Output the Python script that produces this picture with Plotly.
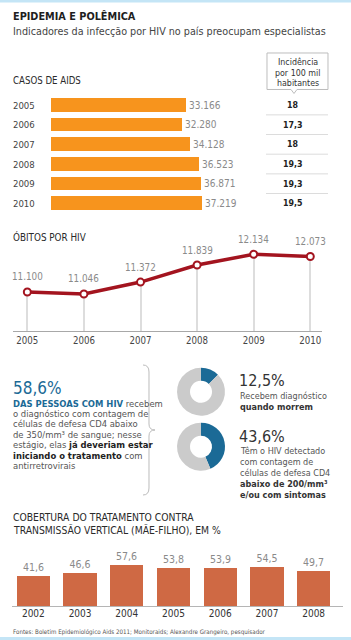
import plotly.graph_objects as go

W, H = 351, 640
FONT = "DejaVu Sans Condensed, DejaVu Sans, sans-serif"

# ---------------- data ----------------
aids_years = ["2005", "2006", "2007", "2008", "2009", "2010"]
aids_cases = [33166, 32280, 34128, 36523, 36871, 37219]
incidence = ["18", "17,3", "18", "19,3", "19,3", "19,5"]

death_years = [2005, 2006, 2007, 2008, 2009, 2010]
deaths = [11100, 11046, 11372, 11839, 12134, 12073]

donut1 = [12.5, 87.5]
donut2 = [43.6, 56.4]

tv_years = ["2002", "2003", "2004", "2005", "2006", "2007", "2008"]
tv_cov = [41.6, 46.6, 57.6, 53.8, 53.9, 54.5, 49.7]


def X(px):
    return px / W


def Y(py):
    return 1 - py / H


def fmt_thousands(v):
    return f"{v:,}".replace(",", ".")


def fmt_dec(v):
    return f"{v:.1f}".replace(".", ",")


fig = go.Figure()

ORANGE = "#f7941d"
RED = "#a3141f"
BLUE = "#1b6a96"
GRAY_TXT = "#8a8a8a"
DARK = "#2a2a2a"

# ---- AIDS cases horizontal bars ----
fig.add_trace(go.Bar(
    x=aids_cases, y=list(range(len(aids_years))), orientation="h",
    marker=dict(color=ORANGE, line=dict(width=0)),
    width=0.71,
    text=[fmt_thousands(v) for v in aids_cases],
    textposition="outside", constraintext="none", cliponaxis=False,
    textfont=dict(family=FONT, size=10, color=GRAY_TXT),
    xaxis="x", yaxis="y", showlegend=False, hoverinfo="skip",
))

# ---- Deaths line chart ----
fig.add_trace(go.Bar(
    x=death_years, y=deaths, width=0.018,
    marker=dict(color="#dddddd", line=dict(width=0)),
    xaxis="x2", yaxis="y2", showlegend=False, hoverinfo="skip",
))
fig.add_trace(go.Scatter(
    x=death_years, y=deaths, mode="lines+markers",
    line=dict(color=RED, width=3.5),
    marker=dict(size=7, color="white", line=dict(color=RED, width=2)),
    xaxis="x2", yaxis="y2", showlegend=False, hoverinfo="skip", cliponaxis=False,
))

# ---- Donuts ----
for vals, cy in [(donut1, 391.7), (donut2, 446.7)]:
    fig.add_trace(go.Pie(
        values=vals, hole=0.46, sort=False, direction="clockwise", rotation=0,
        marker=dict(colors=[BLUE, "#cbcbcb"], line=dict(width=0)),
        textinfo="none", hoverinfo="skip", showlegend=False,
        domain=dict(x=[X(201 - 24), X(201 + 24)], y=[Y(cy + 24), Y(cy - 24)]),
    ))

# ---- Vertical transmission bars ----
fig.add_trace(go.Bar(
    x=list(range(len(tv_years))), y=tv_cov, width=0.714,
    marker=dict(color="#cf6944", line=dict(width=0)),
    text=[fmt_dec(v) for v in tv_cov],
    textposition="outside", constraintext="none", cliponaxis=False,
    textfont=dict(family=FONT, size=10.5, color=GRAY_TXT),
    xaxis="x3", yaxis="y3", showlegend=False, hoverinfo="skip",
))

ann = []


def text(t, x, y, size, color=DARK, xanchor="left", ref=("paper", "paper")):
    ann.append(dict(text=t, x=x, y=y, xref=ref[0], yref=ref[1], showarrow=False,
                    xanchor=xanchor, yanchor="middle",
                    font=dict(family=FONT, size=size, color=color)))


# header
text("<b>EPIDEMIA E POLÊMICA</b>", X(11), Y(16), 10.8, "#1e1e1e")
text("Indicadores da infecção por HIV no país preocupam especialistas", X(11), Y(31), 10.7, "#444444")

# casos de aids
text("CASOS DE AIDS", X(11), Y(80), 9.6, DARK)
for t, py in [("Incidência", 62), ("por 100 mil", 72.7), ("habitantes", 83)]:
    text(t, X(297.5), Y(py), 8.8, "#333333", xanchor="center")
for i, (yr, inc) in enumerate(zip(aids_years, incidence)):
    text(yr, X(11), i, 9.5, "#444444", ref=("paper", "y"))
    text(f"<b>{inc}</b>", X(293), i, 8.8, "#222222", xanchor="center", ref=("paper", "y"))

# obitos
text("ÓBITOS POR HIV", X(11), Y(237), 9.8, DARK)
for yr, v in zip(death_years, deaths):
    ann.append(dict(text=fmt_thousands(v), x=yr, y=v, xref="x2", yref="y2", showarrow=False,
                    xanchor="center", yanchor="middle", yshift=15,
                    font=dict(family=FONT, size=9.8, color=GRAY_TXT)))

# middle paragraph
text("58,6%", X(11), Y(387.5), 17, BLUE)
para = [
    "<b><span style='color:#1b6a96'>DAS PESSOAS COM HIV</span></b> recebem",
    "o diagnóstico com contagem de",
    "células de defesa CD4 abaixo",
    "de 350/mm³ de sangue; nesse",
    "estágio, elas <b><span style='color:#222'>já deveriam estar</span></b>",
    "<b><span style='color:#222'>iniciando o tratamento</span></b> com",
    "antirretrovirais",
]
for i, line in enumerate(para):
    text(line, X(11), Y(403 + i * 10.4), 9.4, "#555555")

# donut texts
text("12,5%", X(237), Y(380.5), 16, "#333333")
text("Recebem diagnóstico", X(238), Y(395.5), 9, "#555555")
text("<b>quando morrem</b>", X(238), Y(406.5), 9, "#333333")
text("43,6%", X(237), Y(436.5), 16, "#333333")
right2 = [
    ("Têm o HIV detectado", "#555555"),
    ("com contagem de", "#555555"),
    ("células de defesa CD4", "#555555"),
    ("<b>abaixo de 200/mm³</b>", "#333333"),
    ("<b>e/ou com sintomas</b>", "#333333"),
]
for i, (t, c) in enumerate(right2):
    text(t, X(238), Y(450.5 + i * 11.1), 9, c)

# bottom
text("COBERTURA DO TRATAMENTO CONTRA", X(11), Y(517), 10.3, DARK)
text("TRANSMISSÃO VERTICAL (MÃE-FILHO), EM %", X(11), Y(530), 10.3, DARK)
text("Fontes: Boletim Epidemiológico Aids 2011; Monitoraids; Alexandre Grangeiro, pesquisador",
     X(11), Y(631.5), 6.2, "#555555")

shapes = []
# blue borders
shapes.append(dict(type="rect", xref="paper", yref="paper", x0=0, x1=1, y0=Y(2.5), y1=Y(0),
                   fillcolor="#c4e5f6", line=dict(width=0), layer="below"))
shapes.append(dict(type="rect", xref="paper", yref="paper", x0=0, x1=1, y0=Y(640), y1=Y(637),
                   fillcolor="#c4e5f6", line=dict(width=0), layer="below"))
# incidence box
pts = [(267, 53), (328, 53), (328, 89.5), (297, 89.5), (294, 93.5), (291, 89.5), (267, 89.5)]
path = "M " + " L ".join(f"{X(a):.5f},{Y(b):.5f}" for a, b in pts) + " Z"
shapes.append(dict(type="path", path=path, xref="paper", yref="paper",
                   line=dict(color="#bdbdbd", width=1), fillcolor="white", layer="below"))
# separators in incidence column
for i in range(len(aids_years) - 1):
    shapes.append(dict(type="line", xref="paper", yref="y", x0=X(266), x1=X(328),
                       y0=i + 0.5, y1=i + 0.5, line=dict(color="#dcdcdc", width=1)))


def P(a, b):
    return f"{X(a):.5f},{Y(b):.5f}"


brace = (f"M {P(143,365)} Q {P(149,365)} {P(149,372)} L {P(149,424)} "
         f"Q {P(149,430)} {P(155,430)} Q {P(149,430)} {P(149,436)} L {P(149,488)} "
         f"Q {P(149,495)} {P(143,495)}")
shapes.append(dict(type="path", path=brace, xref="paper", yref="paper",
                   line=dict(color="#bcbcbc", width=1)))
# bottom baseline
shapes.append(dict(type="line", xref="paper", yref="paper", x0=X(12), x1=X(343),
                   y0=Y(606.5), y1=Y(606.5), line=dict(color="#b5b5b5", width=1)))

hidden = dict(visible=False, fixedrange=True)

fig.update_layout(
    width=W, height=H, margin=dict(l=0, r=0, t=0, b=0),
    paper_bgcolor="white", plot_bgcolor="rgba(0,0,0,0)",
    font=dict(family=FONT), separators=",.",
    bargap=0,
    xaxis=dict(domain=[X(51), X(251)], range=[0, 49261], anchor="y", **hidden),
    yaxis=dict(domain=[Y(213.2), Y(95.2)], range=[5.5, -0.5], anchor="x", **hidden),
    xaxis2=dict(domain=[X(13), X(322)], range=[2004.747, 2010.207], anchor="y2",
                tickvals=death_years, ticktext=[str(y) for y in death_years],
                showline=True, linecolor="#a8a8a8", linewidth=1, showgrid=False,
                zeroline=False, ticks="", tickfont=dict(family=FONT, size=9.6, color="#444"),
                fixedrange=True),
    yaxis2=dict(domain=[Y(331), Y(240)], range=[10030, 12526], anchor="x2", **hidden),
    xaxis3=dict(domain=[X(10), X(337)], range=[-0.5, 6.5], anchor="y3",
                tickvals=list(range(len(tv_years))), ticktext=tv_years,
                showline=False, showgrid=False, zeroline=False, ticks="",
                tickfont=dict(family=FONT, size=10, color="#333"), fixedrange=True),
    yaxis3=dict(domain=[Y(606), Y(545)], range=[0, 85.9], anchor="x3", **hidden),
    annotations=ann, shapes=shapes,
)

fig.write_html("out.html")
